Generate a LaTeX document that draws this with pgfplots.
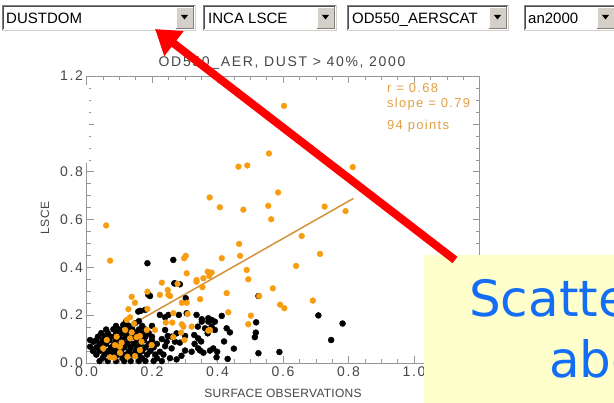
\documentclass[border=0pt]{standalone}
\usepackage{fontspec}
\usepackage{pgfplots}
\pgfplotsset{compat=1.18}
\usetikzlibrary{arrows.meta}
\setmainfont{Liberation Sans}
\newfontfamily\idl[LetterSpace=12]{Liberation Sans}
\newfontfamily\idlx[LetterSpace=2]{Liberation Sans}
\newfontfamily\idlt[LetterSpace=10]{Liberation Sans}
\newfontfamily\comic{DejaVu Sans}
\definecolor{org}{RGB}{248,156,16}
\definecolor{orgtxt}{RGB}{226,160,70}
\definecolor{regl}{RGB}{212,146,58}
\definecolor{axgray}{RGB}{150,150,150}
\definecolor{txtgray}{RGB}{70,70,70}
\definecolor{btnface}{RGB}{212,208,200}
\definecolor{boxyel}{RGB}{255,255,204}
\definecolor{bblue}{RGB}{20,110,245}

\newcommand{\dropdown}[4]{%
  \fill[white] (#1,373) rectangle (#2,398);
  \draw[gray] (#1,373) -- (#1,398) -- (#2,398);
  \draw[black!70] (#1+1,374) -- (#1+1,397) -- (#2-1,397);
  \draw[btnface] (#1,373) -- (#2,373) -- (#2,398);
  \fill[btnface] (#2-19,375) rectangle (#2-2,396);
  \draw[white] (#2-19,375) -- (#2-19,396) -- (#2-2,396);
  \draw[gray] (#2-19,375) -- (#2-2,375) -- (#2-2,396);
  \fill[black] (#2-14,388) -- (#2-7,388) -- (#2-10.5,383.5) -- cycle;
  \node[anchor=base west, inner sep=0pt, font=\fontsize{15}{15}\selectfont] at (#4,379) {#3};
}

\pgfplotstableread{
x y
0.04 0.008
0.065 0.008
0.09 0.008
0.115 0.008
0.135 0.008
0.16 0.008
0.18 0.008
0.205 0.008
0.23 0.008
0.255 0.020
0.275 0.015
0.397 0.024
0.431 0.017
0.05 0.022
0.11 0.02
0.17 0.02
0.215 0.02
0.03 0.035
0.055 0.035
0.075 0.035
0.095 0.035
0.12 0.035
0.14 0.035
0.16 0.035
0.185 0.035
0.21 0.035
0.235 0.035
0.29 0.03
0.357 0.043
0.02 0.05
0.04 0.05
0.065 0.05
0.085 0.05
0.105 0.05
0.13 0.05
0.15 0.05
0.17 0.05
0.195 0.05
0.224 0.047
0.26 0.061
0.301 0.052
0.321 0.047
0.341 0.061
0.347 0.052
0.377 0.052
0.387 0.061
0.399 0.047
0.525 0.041
0.589 0.046
0.011 0.068
0.03 0.065
0.05 0.065
0.075 0.065
0.095 0.065
0.115 0.065
0.135 0.065
0.155 0.065
0.18 0.065
0.205 0.065
0.24 0.07
0.45 0.06
0.021 0.089
0.04 0.08
0.06 0.08
0.085 0.08
0.105 0.08
0.125 0.08
0.145 0.08
0.165 0.08
0.19 0.08
0.215 0.08
0.245 0.089
0.270 0.089
0.285 0.085
0.33 0.08
0.011 0.096
0.03 0.095
0.05 0.095
0.07 0.095
0.09 0.095
0.11 0.095
0.13 0.095
0.155 0.095
0.175 0.095
0.2 0.095
0.23 0.1
0.35 0.09
0.42 0.09
0.747 0.096
0.035 0.11
0.055 0.11
0.075 0.11
0.1 0.11
0.12 0.11
0.14 0.11
0.16 0.11
0.18 0.11
0.2 0.11
0.248 0.113
0.260 0.110
0.301 0.113
0.329 0.117
0.341 0.103
0.514 0.108
0.045 0.125
0.065 0.125
0.09 0.125
0.11 0.125
0.13 0.125
0.15 0.125
0.17 0.125
0.19 0.125
0.275 0.124
0.370 0.124
0.438 0.128
0.517 0.127
0.06 0.14
0.082 0.141
0.1 0.14
0.12 0.14
0.14 0.14
0.16 0.14
0.18 0.14
0.240 0.138
0.340 0.152
0.362 0.145
0.382 0.152
0.392 0.138
0.428 0.145
0.09 0.155
0.112 0.159
0.13 0.155
0.148 0.166
0.17 0.155
0.2 0.155
0.12 0.172
0.16 0.175
0.352 0.173
0.372 0.173
0.392 0.173
0.382 0.180
0.518 0.170
0.782 0.165
0.224 0.201
0.240 0.191
0.250 0.201
0.282 0.201
0.306 0.208
0.336 0.201
0.352 0.183
0.372 0.187
0.413 0.197
0.708 0.199
0.158 0.215
0.165 0.218
0.179 0.222
0.189 0.285
0.194 0.280
0.303 0.271
0.186 0.417
0.265 0.431
0.270 0.333
0.285 0.329
0.268 0.333
0.525 0.280
}\blackpts

\pgfplotstableread{
x y
0.603 1.075
0.557 0.876
0.464 0.821
0.491 0.826
0.813 0.819
0.585 0.713
0.376 0.692
0.407 0.651
0.479 0.641
0.555 0.657
0.564 0.601
0.727 0.654
0.791 0.635
0.657 0.531
0.060 0.575
0.072 0.428
0.466 0.498
0.469 0.448
0.413 0.438
0.298 0.438
0.303 0.448
0.306 0.375
0.370 0.382
0.382 0.378
0.375 0.364
0.357 0.354
0.336 0.347
0.489 0.389
0.494 0.350
0.230 0.336
0.278 0.331
0.713 0.456
0.640 0.406
0.569 0.312
0.691 0.261
0.591 0.244
0.604 0.229
0.354 0.317
0.428 0.292
0.527 0.280
0.433 0.212
0.502 0.198
0.494 0.162
0.248 0.305
0.255 0.280
0.224 0.285
0.186 0.298
0.138 0.277
0.148 0.252
0.128 0.225
0.133 0.191
0.123 0.180
0.186 0.226
0.291 0.252
0.306 0.252
0.347 0.267
0.309 0.205
0.242 0.169
0.262 0.169
0.291 0.162
0.296 0.152
0.321 0.152
0.372 0.135
0.289 0.127
0.265 0.108
0.299 0.096
0.209 0.138
0.163 0.113
0.184 0.138
0.118 0.138
0.092 0.110
0.062 0.096
0.051 0.061
0.072 0.024
0.087 0.075
0.102 0.068
0.107 0.085
0.084 0.022
0.125 0.026
0.102 0.043
0.148 0.029
0.153 0.108
0.133 0.103
0.163 0.054
0.168 0.089
0.199 0.075
0.138 0.128
0.145 0.165
0.250 0.285
0.336 0.340
0.265 0.208
0.377 0.138
}\orangepts

\begin{document}
\begin{tikzpicture}[x=1pt,y=1pt]
\useasboundingbox (0,0) rectangle (614,403);
\clip (0,0) rectangle (614,403);
\fill[white] (0,0) rectangle (614,403);

\dropdown{2}{195}{DUSTDOM}{6}
\dropdown{203}{336}{INCA LSCE}{208}
\dropdown{347}{508}{OD550\_AERSCAT}{352}
\dropdown{524}{616}{an2000}{528}

\node[anchor=base, inner sep=0pt, text=txtgray, font=\idl\fontsize{14}{14}\selectfont] at (282,336) {OD550\_AER, DUST > 40\%, 2000};

\begin{axis}[
  at={(86.5pt,40pt)}, anchor=south west,
  scale only axis, width=393pt, height=287pt,
  xmin=0, xmax=1.2, ymin=0, ymax=1.2,
  xtick={0,0.2,0.4,0.6,0.8,1.0,1.2},
  xticklabels={0.0,0.2,0.4,0.6,0.8,1.0,},
  ytick={0,0.2,0.4,0.6,0.8,1.0,1.2},
  yticklabels={0.0,0.2,0.4,0.6,0.8,1.0,1.2},
  minor x tick num=3, minor y tick num=3,
  axis line style={axgray},
  every tick/.style={axgray},
  major tick length=7pt, minor tick length=4pt,
  tick label style={font=\idl\fontsize{14}{14}\selectfont, text=txtgray},
  clip=false,
]
\addplot[only marks, color=black, mark=*, mark size=3pt, mark options={draw=none, fill=black}] table {\blackpts};
\addplot[only marks, color=org, mark=*, mark size=2.9pt, mark options={draw=none, fill=org}] table {\orangepts};
\addplot[regl, line width=1.5pt] coordinates {(0.05,0.092) (0.815,0.688)};
\end{axis}

\fill[white] (30,240) rectangle (89,318);

\node[anchor=base, inner sep=0pt, text=txtgray, font=\idlx\fontsize{12}{12}\selectfont] at (283,5) {SURFACE OBSERVATIONS};
\node[rotate=90, inner sep=0pt, text=txtgray, font=\idlx\fontsize{12}{12}\selectfont] at (45,185) {LSCE};

\node[anchor=base west, inner sep=0pt, text=orgtxt, font=\idlt\fontsize{13}{13}\selectfont] at (387,310) {r = 0.68};
\node[anchor=base west, inner sep=0pt, text=orgtxt, font=\idlt\fontsize{13}{13}\selectfont] at (387,295) {slope = 0.79};
\node[anchor=base west, inner sep=0pt, text=orgtxt, font=\idlt\fontsize{13}{13}\selectfont] at (387,273) {94 points};

\fill[boxyel] (424,0) rectangle (614,148);
\node[anchor=base west, inner sep=0pt, text=bblue, font=\comic\fontsize{50}{50}\selectfont] at (469,86) {Scatter};
\node[anchor=base west, inner sep=0pt, text=bblue, font=\comic\fontsize{50}{50}\selectfont] at (549,25) {above};

\draw[red, line width=8pt, -{Triangle[length=24pt,width=30pt]}] (455,143) -- (155,374);
\end{tikzpicture}
\end{document}
